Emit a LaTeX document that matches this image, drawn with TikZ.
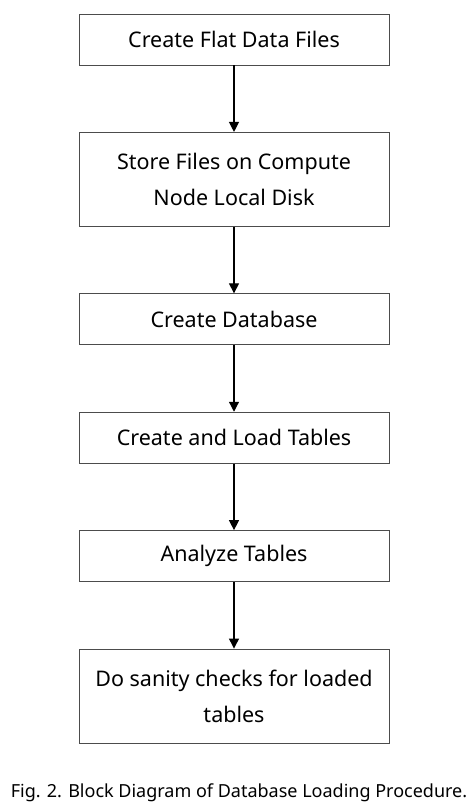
\documentclass[tikz,border=0pt]{standalone}
\usepackage{fontspec}
\setmainfont{Noto Sans}
\usepackage{tikz}
\usetikzlibrary{arrows.meta, positioning}

\begin{document}
\begin{tikzpicture}[->,>={Triangle[length=10pt,width=10pt]},line width=1.2pt,x=1pt,y=1pt,
    node distance=66.5pt]
    \tikzset{block/.style={draw=black!70,line width=0.9pt,minimum width=310pt,minimum height=51pt,
        align=center,font=\fontsize{21.5}{36}\selectfont,inner sep=2pt},
        tallblock/.style={block,minimum height=94pt}}
    \useasboundingbox (0,0) rectangle (475,-810);

    \node[block]     (flat)                     at (234,-39.5) {Create Flat Data Files};
    \node[tallblock] (store)    [below=of flat]     {Store Files on Compute\\Node Local Disk};
    \node[block]     (db)       [below=of store]    {Create Database};
    \node[block]     (load)     [below=of db]       {Create and Load Tables};
    \node[block]     (analyze)  [below=of load]     {Analyze Tables};
    \node[tallblock] (sanity)   [below=of analyze]  {Do sanity checks for loaded\\tables};

    \node[font=\fontsize{18}{20}\selectfont] (caption) at (239,-793)
        {Fig. 2. Block Diagram of Database Loading Procedure.};

    \path (flat)    edge (store);
    \path (store)   edge (db);
    \path (db)      edge (load);
    \path (load)    edge (analyze);
    \path (analyze) edge (sanity);
\end{tikzpicture}
\end{document}
